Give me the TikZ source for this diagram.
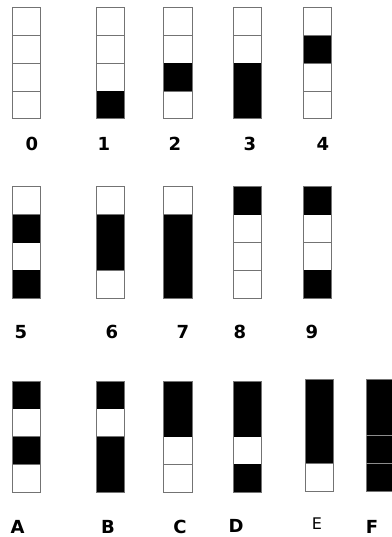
\documentclass[tikz,border=0pt]{standalone}
\usepackage{fontspec}
\setmainfont{DejaVu Sans}
\begin{document}
\begin{tikzpicture}[x=1pt,y=-1pt,
  cellbox/.style={draw=black!55,line width=1pt,fill=white},
  lbl/.style={inner sep=0pt,font=\bfseries\fontsize{18}{18}\selectfont}]
\useasboundingbox[fill=white] (0,0) rectangle (391,537);
% \mystrip{x}{top}{width}{cellheight}{a/b/c/d}
\newcommand\mystrip[5]{%
  \foreach \v [count=\i from 0] in {#5} {
    \draw[cellbox] (#1,#2+\i*#4) rectangle (#1+#3,#2+\i*#4+#4);
  }
  \foreach \v [count=\i from 0] in {#5} {
    \ifnum\v=1
      \fill[black] (#1,#2+\i*#4) rectangle (#1+#3,#2+\i*#4+#4);
    \fi
  }
  \draw[draw=black!55,line width=1pt] (#1,#2) rectangle (#1+#3,#2+4*#4);
}
% row 1
\mystrip{12}{8}{28}{27.75}{0,0,0,0}
\mystrip{96}{8}{28}{27.75}{0,0,0,1}
\mystrip{163}{8}{29}{27.75}{0,0,1,0}
\mystrip{233}{8}{28}{27.75}{0,0,1,1}
\mystrip{303}{8}{28}{27.75}{0,1,0,0}
% row 2
\mystrip{12}{187}{28.5}{27.75}{0,1,0,1}
\mystrip{96}{187}{28}{27.75}{0,1,1,0}
\mystrip{163}{187}{29}{27.75}{0,1,1,1}
\mystrip{233}{187}{28}{27.75}{1,0,0,0}
\mystrip{303}{187}{28}{27.75}{1,0,0,1}
% row 3
\mystrip{12}{381}{28.5}{27.75}{1,0,1,0}
\mystrip{96}{381}{28}{27.75}{1,0,1,1}
\mystrip{163}{381}{29}{27.75}{1,1,0,0}
\mystrip{233}{381}{28}{27.75}{1,1,0,1}
\mystrip{305}{379}{28}{28}{1,1,1,0}
\mystrip{366}{379}{28}{28}{1,1,1,1}
\draw[black!45,line width=0.8pt] (366,435) -- (394,435) (366,463) -- (394,463);
% labels
\node[lbl] (l0) at (32,143.5) {0};
\node[lbl] (l1) at (104,143.5) {1};
\node[lbl] (l2) at (175,143.5) {2};
\node[lbl] (l3) at (250,143.5) {3};
\node[lbl] (l4) at (323,143.5) {4};
\node[lbl] (l5) at (21,332) {5};
\node[lbl] (l6) at (112,332) {6};
\node[lbl] (l7) at (183,332) {7};
\node[lbl] (l8) at (240,332) {8};
\node[lbl] (l9) at (312,332) {9};
\node[lbl] (lA) at (17.5,526.5) {A};
\node[lbl] (lB) at (108,526.5) {B};
\node[lbl] (lC) at (180,526.5) {C};
\node[lbl] (lD) at (236,525.5) {D};
\node[lbl,font=\fontsize{16}{16}\selectfont] (lE) at (317,523.5) {E};
\node[lbl] (lF) at (372,526.5) {F};
\end{tikzpicture}
\end{document}
